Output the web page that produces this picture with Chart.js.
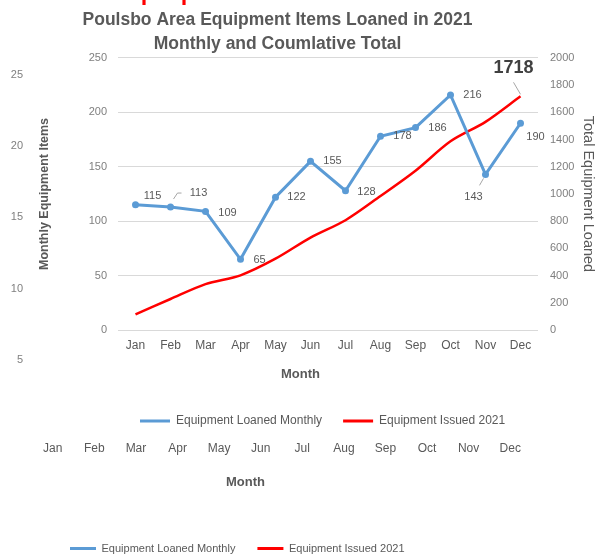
<!DOCTYPE html>
<html>
<head>
<meta charset="utf-8">
<title>Poulsbo Area Equipment Items Loaned in 2021</title>
<script src="https://cdn.jsdelivr.net/npm/chart.js@4"></script>
<style>
  html, body { margin: 0; padding: 0; background: #fff; overflow: hidden; }
  #page { position: relative; width: 597px; height: 559px; overflow: hidden; }
  #backWrap { position: absolute; left: 0; top: 0; width: 597px; height: 564px; }
  #frontWrap { position: absolute; left: 0; top: 0; width: 597px; height: 437px; }
  .cut { position: absolute; top: -33px; font: 36px "Liberation Sans", Arial, sans-serif; color: #ff0000; line-height: 36px; }
</style>
</head>
<body>
<div id="page">
  <div id="backWrap"><canvas id="backChart"></canvas></div>
  <div id="frontWrap"><canvas id="frontChart"></canvas></div>
  <div class="cut" style="left:140px">p</div>
  <div class="cut" style="left:180px">p</div>
</div>
<script>
const months = ["Jan", "Feb", "Mar", "Apr", "May", "Jun", "Jul", "Aug", "Sep", "Oct", "Nov", "Dec"];
const loanedMonthly = [115, 113, 109, 65, 122, 155, 128, 178, 186, 216, 143, 190];
const issuedTotal = [115, 228, 337, 402, 524, 679, 807, 985, 1171, 1387, 1530, 1718];

const titleLines = ["Poulsbo Area Equipment Items Loaned in 2021", "Monthly and Coumlative Total"];
const xTitle = "Month";
const leftTitle = "Monthly Equipment Items";
const rightTitle = "Total Equipment Loaned";
const loanedName = "Equipment Loaned Monthly";
const issuedName = "Equipment Issued 2021";

// where each value label sits, relative to its point
const loanedLabelOffsets = [[17, -9], [28, -14], [22, 2], [19, 1], [21, 0], [22, 0], [21, 1], [22, 0], [22, 0], [22, 0], [-12, 23], [15, 14]];
const loanedLeaders = { 1: [[3, -8], [7, -14], [11, -14]], 10: [[-6, 11], [-2, 4]] };
const issuedLabelOffsets = [null, null, null, null, null, null, null, null, null, null, null, [-7, -28]];
const issuedLeaders = { 11: [[-7, -14], [0, -2]] };

const FONT = '"Liberation Sans", Arial, sans-serif';
const BLUE = "#5b9bd5";
const RED = "#ff0000";
const GREY = "#595959";
const LIGHT = "#7f7f7f";

Chart.defaults.font.family = FONT;

// legend swatches as thin flat lines
const flatLegend = chart =>
    Chart.defaults.plugins.legend.labels.generateLabels(chart).map(l => ({ ...l, lineWidth: 0 }));

// shift title / subtitle / legend sideways after layout
const nudge = {
    id: "nudge",
    afterLayout(chart, args, opts) {
        chart.boxes.forEach(box => {
            let dx = 0;
            if (box === chart.legend) dx = opts.legend || 0;
            else if (box === chart.titleBlock) dx = opts.title || 0;
            else if (box.options && box.options.text === xTitle) dx = opts.subtitle || 0;
            box.left += dx;
            box.right += dx;
        });
    }
};

// value labels next to the points
const pointLabels = {
    id: "pointLabels",
    afterDatasetsDraw(chart, args, opts) {
        const ctx = chart.ctx;
        (opts.sets || []).forEach(set => {
            const meta = chart.getDatasetMeta(set.dataset);
            const values = chart.data.datasets[set.dataset].data;
            ctx.save();
            ctx.font = set.font;
            ctx.fillStyle = set.color;
            ctx.textAlign = "center";
            ctx.textBaseline = "middle";
            meta.data.forEach((pt, i) => {
                const off = set.offsets[i];
                if (!off) return;
                ctx.fillText(values[i], pt.x + off[0], pt.y + off[1]);
                const lead = set.leaders[i];
                if (lead) {
                    ctx.strokeStyle = "#a6a6a6";
                    ctx.lineWidth = 1;
                    ctx.beginPath();
                    lead.forEach((p, k) => {
                        if (k === 0) ctx.moveTo(pt.x + p[0], pt.y + p[1]);
                        else ctx.lineTo(pt.x + p[0], pt.y + p[1]);
                    });
                    ctx.stroke();
                }
            });
            ctx.restore();
        });
    }
};

// BACK CHART (the leftover copy underneath)
new Chart(document.getElementById("backChart"), {
    type: "line",
    data: {
        labels: months,
        datasets: [
            { label: loanedName, data: loanedMonthly, borderColor: BLUE, backgroundColor: BLUE, borderWidth: 3, pointRadius: 3 },
            { label: issuedName, data: issuedTotal, borderColor: RED, backgroundColor: RED, borderWidth: 3, pointRadius: 0 }
        ]
    },
    options: {
        responsive: true,
        maintainAspectRatio: false,
        animation: false,
        events: [],
        layout: { padding: { top: 75, left: 0, right: 66, bottom: 0 } },
        plugins: {
            title: { display: false },
            subtitle: {
                display: true, position: "bottom", weight: 500, text: xTitle, color: GREY,
                font: { size: 13, weight: "bold" }, padding: { top: 17, bottom: 31 }
            },
            legend: {
                position: "bottom", align: "start",
                labels: { boxWidth: 26, boxHeight: 3, padding: 22, color: GREY, font: { size: 11 }, generateLabels: flatLegend }
            },
            tooltip: { enabled: false },
            nudge: { legend: 48, subtitle: -20 }
        },
        scales: {
            x: {
                offset: true,
                grid: { display: false },
                border: { display: false },
                ticks: { color: GREY, font: { size: 12 }, padding: 2 }
            },
            y: {
                min: 0, max: 25,
                grid: { display: false, drawTicks: false },
                border: { display: false },
                ticks: { stepSize: 5, color: LIGHT, font: { size: 11 }, padding: 9, callback: v => v === 0 ? "" : v },
                afterFit: s => { s.width = 32; }
            }
        }
    },
    plugins: [nudge]
});

// FRONT CHART
new Chart(document.getElementById("frontChart"), {
    type: "line",
    data: {
        labels: months,
        datasets: [
            {
                label: loanedName, data: loanedMonthly, yAxisID: "y",
                borderColor: BLUE, backgroundColor: BLUE, borderWidth: 3,
                pointRadius: 3.5, pointBackgroundColor: BLUE, pointBorderWidth: 0, tension: 0
            },
            {
                label: issuedName, data: issuedTotal, yAxisID: "y1",
                borderColor: RED, backgroundColor: RED, borderWidth: 2.5,
                pointRadius: 0, tension: 0.3
            }
        ]
    },
    options: {
        responsive: true,
        maintainAspectRatio: false,
        animation: false,
        events: [],
        layout: { padding: { top: 0, left: 30, right: 0, bottom: 0 } },
        plugins: {
            title: {
                display: true, text: titleLines, color: GREY,
                font: { size: 17.5, weight: "bold", lineHeight: 1.37 },
                padding: { top: 8, bottom: 2 }
            },
            subtitle: {
                display: true, position: "bottom", weight: 500, text: xTitle, color: GREY,
                font: { size: 13, weight: "bold" }, padding: { top: 14, bottom: 12 }
            },
            legend: {
                position: "bottom", align: "start",
                labels: { boxWidth: 30, boxHeight: 3, padding: 21, color: GREY, font: { size: 12 }, generateLabels: flatLegend }
            },
            tooltip: { enabled: false },
            nudge: { title: -36, subtitle: -13, legend: 89 },
            pointLabels: {
                sets: [
                    { dataset: 0, offsets: loanedLabelOffsets, leaders: loanedLeaders, font: "11px " + FONT, color: GREY },
                    { dataset: 1, offsets: issuedLabelOffsets, leaders: issuedLeaders, font: "bold 18px " + FONT, color: "#404040" }
                ]
            }
        },
        scales: {
            x: {
                offset: true,
                grid: { display: false },
                border: { display: false },
                ticks: { color: GREY, font: { size: 12 }, padding: 0 }
            },
            y: {
                position: "left",
                min: 0, max: 250,
                grid: { color: "#d9d9d9", drawTicks: false },
                border: { display: false },
                ticks: { stepSize: 50, color: LIGHT, font: { size: 11 }, padding: 11 },
                title: {
                    display: true, text: leftTitle, color: GREY,
                    font: { size: 12.5, weight: "bold" }, padding: { top: 7, bottom: 0 }
                },
                afterFit: s => { s.width = 88; }
            },
            y1: {
                position: "right",
                min: 0, max: 2000,
                grid: { display: false, drawTicks: false },
                border: { display: false },
                ticks: { stepSize: 200, color: LIGHT, font: { size: 11 }, padding: 12, callback: v => String(v) },
                title: {
                    display: true, text: rightTitle, color: GREY,
                    font: { size: 14.5 }, padding: { top: 0, bottom: 0 }
                },
                afterFit: s => { s.width = 59; }
            }
        }
    },
    plugins: [nudge, pointLabels]
});
</script>
</body>
</html>
